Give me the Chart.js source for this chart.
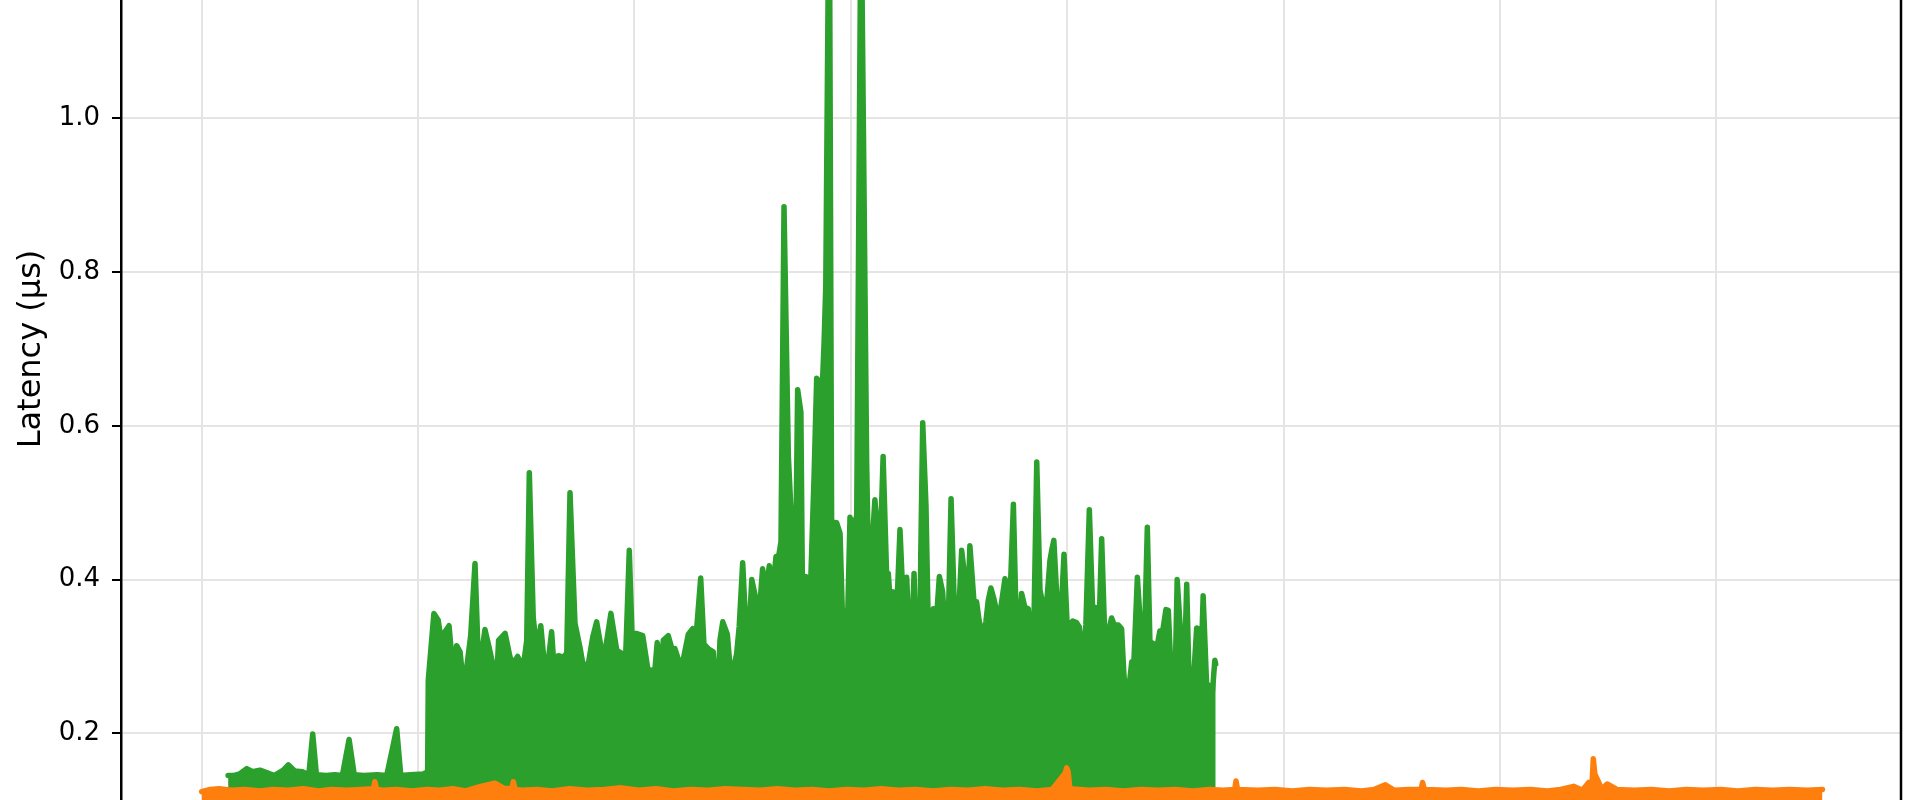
<!DOCTYPE html>
<html>
<head>
<meta charset="utf-8">
<title>Latency</title>
<script src="https://cdn.jsdelivr.net/npm/chart.js@4.4.1/dist/chart.umd.min.js"></script>
<style>
  html, body { margin: 0; padding: 0; background: #fff; overflow: hidden; width: 1920px; height: 800px; }
  #chart { position: absolute; left: 0; top: -229px; }
</style>
</head>
<body>
<canvas id="chart" width="1920" height="1156"></canvas>
<script>
// x is in sample units (grid every 100), y in µs
const greenX = [
  12.2, 14.6, 17.5, 20.8, 23.5, 26.9, 30.0, 33.5, 37.7, 40.0, 43.0, 46.5, 49.5, 51.3, 53.0, 57.5,
  61.5, 65.0, 68.1, 70.5, 75.0, 81.0, 85.5, 90.1, 92.0, 96.5, 102.4, 104.4,
  104.7, 107.3, 109.3, 110.9, 112.4, 114.3, 116.3, 117.8, 119.4, 121.3, 122.5, 124.3, 126.3, 127.8,
  129.4, 130.9, 132.8, 134.8, 136.0, 137.2, 140.2, 142.5, 144.0, 146.0, 148.6, 150.2, 151.4, 153.2,
  154.8, 156.7, 158.6, 160.2, 161.7, 163.3, 164.8, 167.1, 168.7, 170.2, 172.5, 174.8, 176.3, 178.7,
  180.7, 182.5, 184.8, 186.4, 189.1, 191.8, 194.1, 195.6, 197.6, 199.4, 200.7, 203.8, 206.2, 208.0,
  208.7, 210.5, 212.6, 213.3, 215.6, 217.5, 218.7, 220.2, 221.5, 222.6, 224.9, 226.9, 228.4, 230.6,
  232.1, 234.1, 236.4, 237.7, 238.7, 239.5, 240.8, 242.9, 244.1, 245.7, 247.2, 248.4, 250.0, 251.8,
  253.0, 254.2, 255.7, 256.5, 257.7, 259.2, 260.8, 262.3, 263.9, 265.4, 266.5, 267.7, 269.1, 271.1,
  272.6, 273.4, 274.2, 275.4, 276.9, 277.7, 279.2, 281.4, 283.0, 284.2, 285.7, 287.0, 287.6, 288.4,
  290.0, 291.1, 293.4, 295.0, 296.0, 297.3, 298.3, 299.6, 301.1, 302.7, 304.7, 306.5, 307.3, 308.0,
  309.1, 311.1, 312.7, 313.4, 314.9, 316.5, 317.3, 318.4, 319.6, 321.2, 322.7, 324.2, 325.8, 327.6,
  329.2, 330.4, 331.6, 332.3, 333.2, 334.7, 335.8, 338.1, 339.7, 340.9, 342.4, 343.5, 345.0, 346.3,
  348.1, 349.6, 351.2, 352.7, 353.5, 355.0, 356.9, 358.1, 359.2, 361.2, 362.4, 363.5, 364.7, 366.1,
  367.7, 369.2, 371.2, 372.7, 373.5, 375.1, 376.6, 377.7, 378.9, 380.4, 382.0, 383.5, 384.3, 385.9,
  387.4, 388.9, 389.7, 390.8, 392.0, 392.8, 393.8, 395.8, 396.9, 398.5, 400.0, 402.5, 404.3, 405.6,
  406.7, 407.7, 408.6, 410.2, 411.7, 412.8, 414.3, 415.9, 417.4, 418.7, 420.5, 421.7, 423.6, 425.1,
  426.2, 427.1, 428.2, 429.8, 430.8, 432.4, 433.9, 435.1, 435.9, 437.0, 438.2, 439.7, 441.3, 442.8,
  444.1, 445.6, 446.7, 447.8, 449.0, 449.8, 450.8, 452.4, 453.3, 453.9, 455.2, 456.4, 457.2, 458.2,
  459.8, 460.5, 461.6, 462.8, 464.4, 465.1, 466.2, 467.0, 468.2, 468.6
];
const greenY = [
  0.145, 0.145, 0.147, 0.154, 0.150, 0.152, 0.149, 0.145, 0.152, 0.159, 0.151, 0.150, 0.146, 0.199, 0.146, 0.145,
  0.146, 0.145, 0.192, 0.146, 0.145, 0.146, 0.145, 0.206, 0.145, 0.146, 0.147, 0.150,
  0.269, 0.356, 0.347, 0.317, 0.332, 0.340, 0.275, 0.314, 0.306, 0.252, 0.286, 0.327, 0.421, 0.299,
  0.304, 0.335, 0.312, 0.286, 0.254, 0.321, 0.330, 0.299, 0.291, 0.300, 0.286, 0.321, 0.539, 0.351,
  0.308, 0.340, 0.282, 0.295, 0.332, 0.267, 0.301, 0.299, 0.304, 0.513, 0.343, 0.312, 0.288, 0.291,
  0.325, 0.345, 0.308, 0.306, 0.356, 0.308, 0.304, 0.273, 0.438, 0.278, 0.330, 0.327, 0.283, 0.282,
  0.258, 0.318, 0.282, 0.321, 0.327, 0.308, 0.310, 0.297, 0.271, 0.297, 0.329, 0.336, 0.324, 0.402,
  0.316, 0.310, 0.306, 0.242, 0.263, 0.321, 0.345, 0.329, 0.289, 0.284, 0.303, 0.339, 0.422, 0.318,
  0.334, 0.400, 0.380, 0.287, 0.358, 0.414, 0.384, 0.418, 0.386, 0.430, 0.428, 0.449, 0.885, 0.561,
  0.473, 0.428, 0.360, 0.647, 0.618, 0.360, 0.404, 0.394, 0.535, 0.662, 0.651, 0.664, 0.707, 0.782,
  1.350, 0.475, 0.474, 0.460, 0.363, 0.339, 0.326, 0.481, 0.467, 0.483, 1.300, 0.784, 0.551, 0.441,
  0.413, 0.504, 0.449, 0.425, 0.560, 0.408, 0.408, 0.362, 0.384, 0.360, 0.465, 0.367, 0.403, 0.280,
  0.408, 0.291, 0.239, 0.433, 0.604, 0.497, 0.336, 0.362, 0.355, 0.404, 0.384, 0.334, 0.341, 0.505,
  0.338, 0.341, 0.438, 0.401, 0.319, 0.444, 0.371, 0.371, 0.348, 0.323, 0.345, 0.373, 0.389, 0.375,
  0.354, 0.362, 0.401, 0.392, 0.371, 0.498, 0.323, 0.323, 0.382, 0.364, 0.362, 0.310, 0.295, 0.553,
  0.386, 0.366, 0.342, 0.381, 0.425, 0.438, 0.451, 0.343, 0.343, 0.433, 0.338, 0.346, 0.344, 0.338,
  0.306, 0.306, 0.341, 0.491, 0.364, 0.364, 0.301, 0.453, 0.320, 0.329, 0.350, 0.341, 0.341, 0.336,
  0.275, 0.251, 0.251, 0.293, 0.294, 0.403, 0.336, 0.348, 0.347, 0.468, 0.319, 0.317, 0.310, 0.333,
  0.333, 0.361, 0.360, 0.290, 0.258, 0.264, 0.400, 0.329, 0.329, 0.258, 0.394, 0.256, 0.256, 0.263,
  0.337, 0.336, 0.267, 0.379, 0.263, 0.263, 0.247, 0.251, 0.295, 0.290
];

const orangeX = [
  0, 4, 8, 14, 20, 27, 33, 40, 47, 54, 60, 67, 74, 79.4, 80, 80.8, 84, 90, 97, 104, 110, 116, 122, 129, 135.5, 140,
  143.4, 144, 144.8, 148, 155, 162, 170, 178, 186, 194, 202, 210, 218, 226, 234, 242, 250, 258, 266, 274, 282, 290,
  298, 306, 314, 322, 330, 338, 346, 354, 362, 370, 378, 386, 393, 399.0, 399.7, 400.4, 401.2, 410, 418,
  426, 434, 442, 450, 458, 466, 472, 477.4, 478, 478.7, 488, 496, 504, 512, 520, 528, 536, 542, 547, 551, 558,
  563.5, 564.2, 565, 575, 582, 590, 598, 606, 614, 622, 628, 634, 638, 641, 642.6, 643.1, 643.8, 645, 647, 649.5, 654, 662, 670,
  678, 686, 694, 702, 710, 718, 726, 734, 742, 749
];
const orangeY = [
  0.124, 0.127, 0.128, 0.126, 0.127, 0.125, 0.127, 0.126, 0.128, 0.125, 0.127, 0.126, 0.127, 0.128, 0.137, 0.127, 0.126, 0.127, 0.125, 0.127, 0.126, 0.128, 0.125, 0.131, 0.135, 0.128,
  0.128, 0.137, 0.127, 0.126, 0.127, 0.125, 0.128, 0.126, 0.127, 0.129, 0.126, 0.128, 0.125, 0.127, 0.126, 0.128, 0.127, 0.126, 0.128, 0.126, 0.127, 0.125,
  0.127, 0.126, 0.128, 0.126, 0.127, 0.125, 0.127, 0.126, 0.128, 0.126, 0.127, 0.125, 0.127, 0.148, 0.155, 0.150, 0.128, 0.126, 0.127,
  0.125, 0.127, 0.126, 0.127, 0.125, 0.127, 0.126, 0.127, 0.138, 0.127, 0.126, 0.127, 0.125, 0.127, 0.126, 0.127, 0.125, 0.127, 0.133, 0.126, 0.127,
  0.127, 0.136, 0.127, 0.126, 0.127, 0.125, 0.127, 0.126, 0.127, 0.125, 0.127, 0.131, 0.126, 0.136, 0.137, 0.167, 0.147, 0.140, 0.127, 0.134, 0.127, 0.126, 0.127,
  0.125, 0.127, 0.126, 0.127, 0.125, 0.127, 0.126, 0.127, 0.126, 0.127
];

const yTicks = [0.0, 0.2, 0.4, 0.6, 0.8, 1.0, 1.2, 1.4];

const toPoints = (xs, ys) => xs.map((x, i) => ({ x: x, y: ys[i] }));

const rightSpine = {
  id: 'rightSpine',
  afterDraw(chart) {
    const { ctx, chartArea } = chart;
    ctx.save();
    ctx.strokeStyle = '#000';
    ctx.lineWidth = 2.5;
    ctx.beginPath();
    ctx.moveTo(chartArea.right, chartArea.top);
    ctx.lineTo(chartArea.right, chartArea.bottom);
    ctx.stroke();
    ctx.restore();
  },
};

const data = {
  datasets: [
    {
      label: 'orange',
      data: toPoints(orangeX, orangeY),
      borderColor: '#ff7f0e',
      backgroundColor: '#ff7f0e',
      fill: 'origin',
    },
    {
      label: 'green',
      data: toPoints(greenX, greenY),
      borderColor: '#2ca02c',
      backgroundColor: '#2ca02c',
      fill: 'origin',
    },
  ],
};

const options = {
  responsive: false,
  animation: false,
  layout: { padding: { top: 40, right: 19, bottom: 40, left: 0 } },
  elements: {
    point: { radius: 0 },
    line: { borderWidth: 5.5, tension: 0, borderJoinStyle: 'round', borderCapStyle: 'round' },
  },
  plugins: {
    legend: { display: false },
    tooltip: { enabled: false },
  },
  scales: {
    x: {
      type: 'linear',
      min: -37.3,
      max: 785.3,
      ticks: { display: false, stepSize: 100, includeBounds: false },
      grid: { color: '#e6e4e4', lineWidth: 2, drawTicks: false },
      border: { display: false },
      afterFit: (scale) => { scale.height = 0; },
    },
    y: {
      min: 0,
      max: 1.4,
      afterBuildTicks: (scale) => { scale.ticks = yTicks.map((v) => ({ value: v })); },
      ticks: {
        color: '#000',
        padding: 12,
        font: { family: 'DejaVu Sans', size: 26 },
        callback: (v) => v.toFixed(1),
      },
      grid: { color: '#e6e4e4', lineWidth: 2, tickColor: '#000', tickLength: 9, tickWidth: 2 },
      border: { color: '#000', width: 2.5 },
      title: {
        display: true,
        text: 'Latency (µs)',
        color: '#000',
        font: { family: 'DejaVu Sans', size: 32 },
        padding: { top: 12, bottom: 0 },
      },
      afterFit: (scale) => { scale.width = 121; },
    },
  },
};

new Chart(document.getElementById('chart').getContext('2d'), {
  type: 'line',
  data: data,
  options: options,
  plugins: [rightSpine],
});
</script>
</body>
</html>
